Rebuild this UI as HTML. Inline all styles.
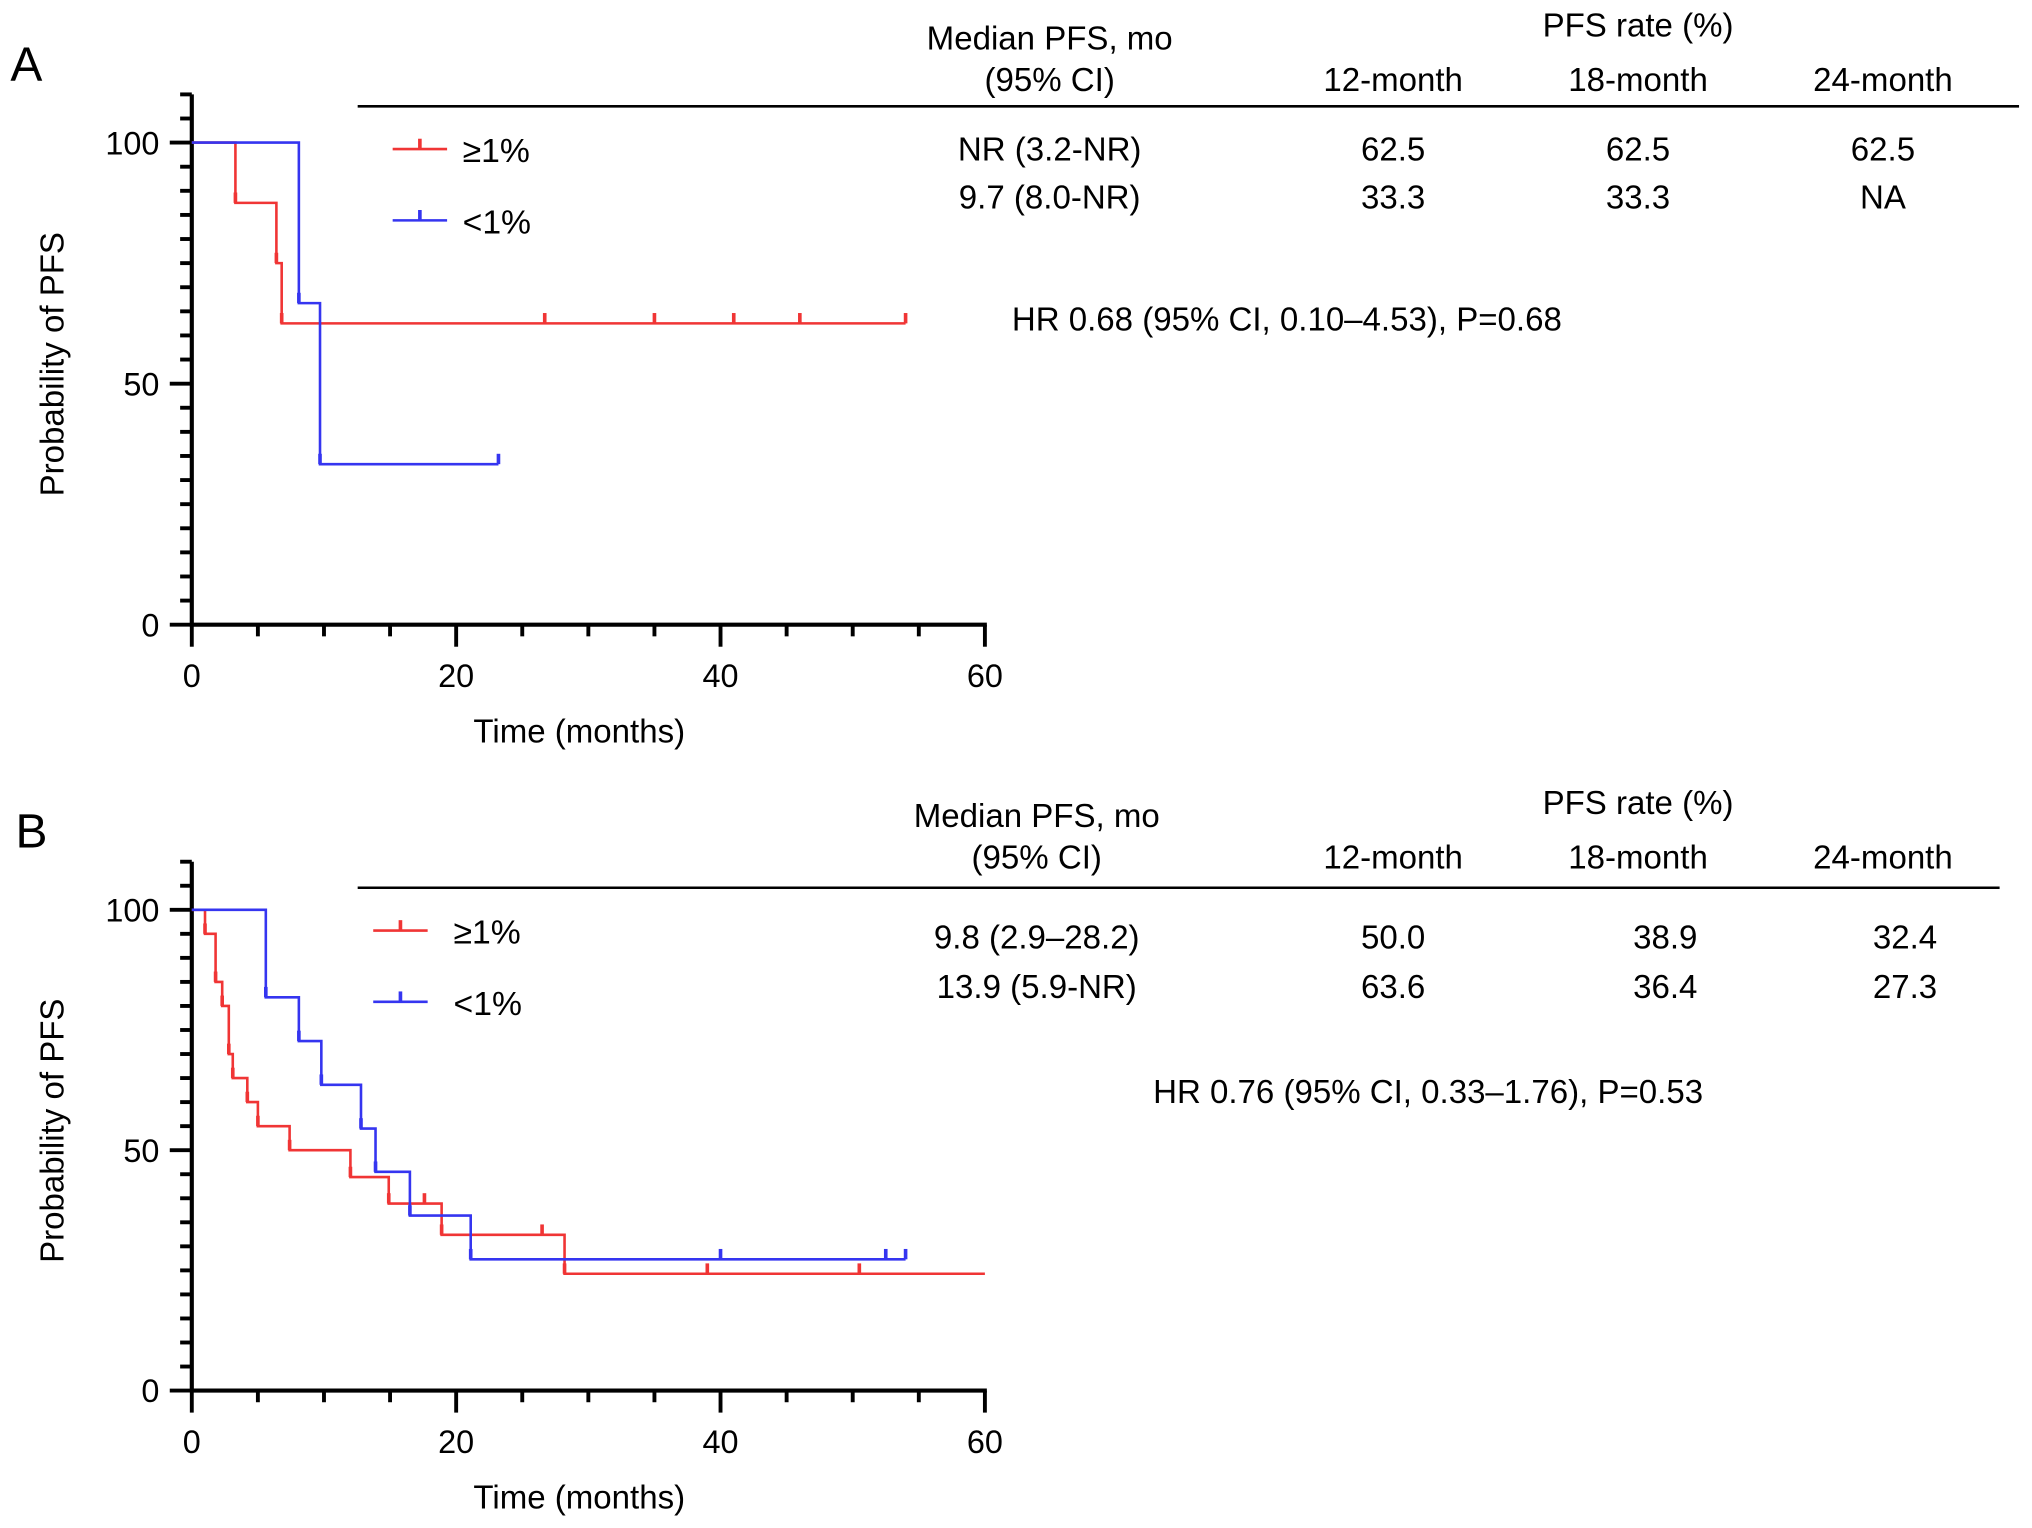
<!DOCTYPE html>
<html><head><meta charset="utf-8"><style>
html,body{margin:0;padding:0;background:#fff;}
svg{display:block;font-family:"Liberation Sans",Arial,sans-serif;}
</style></head><body>
<svg id="fig" width="2032" height="1528" viewBox="0 0 1568 1179" xmlns="http://www.w3.org/2000/svg">
<text x="8" y="62" font-size="37">A</text>
<text x="12" y="654" font-size="37">B</text>

<g font-size="25.5" text-anchor="middle">
<text x="810" y="38">Median PFS, mo</text><text x="810" y="70">(95% CI)</text>
<text x="1264" y="28">PFS rate (%)</text>
<text x="1075" y="70">12-month</text><text x="1264" y="70">18-month</text><text x="1453" y="70">24-month</text>
<line x1="276" y1="82" x2="1558" y2="82" stroke="#000" stroke-width="2"/>
<text x="810" y="124">NR (3.2-NR)</text><text x="1075" y="124">62.5</text><text x="1264" y="124">62.5</text><text x="1453" y="124">62.5</text>
<text x="810" y="161">9.7 (8.0-NR)</text><text x="1075" y="161">33.3</text><text x="1264" y="161">33.3</text><text x="1453" y="161">NA</text>
<text x="993" y="255">HR 0.68 (95% CI, 0.10–4.53), P=0.68</text>
</g>
<g font-size="25.5" text-anchor="middle">
<text x="800" y="638">Median PFS, mo</text><text x="800" y="670">(95% CI)</text>
<text x="1264" y="628">PFS rate (%)</text>
<text x="1075" y="670">12-month</text><text x="1264" y="670">18-month</text><text x="1453" y="670">24-month</text>
<line x1="276" y1="685" x2="1543" y2="685" stroke="#000" stroke-width="2"/>
<text x="800" y="732">9.8 (2.9–28.2)</text><text x="1075" y="732">50.0</text><text x="1285" y="732">38.9</text><text x="1470" y="732">32.4</text>
<text x="800" y="770">13.9 (5.9-NR)</text><text x="1075" y="770">63.6</text><text x="1285" y="770">36.4</text><text x="1470" y="770">27.3</text>
<text x="1102" y="851">HR 0.76 (95% CI, 0.33–1.76), P=0.53</text>
</g>
<g id="plots"></g>
</svg>
<script>
// Panel A data
const aRedT = [0, 3.3, 6.4, 6.8];
const aRedS = [100, 87.5, 75, 62.5];
const aRedEnd = 54;
const aRedCens = [3.3, 6.4, 6.8, 26.7, 35, 41, 46, 54];
const aBlueT = [0, 8.1, 9.7];
const aBlueS = [100, 66.7, 33.3];
const aBlueEnd = 23.2;
const aBlueCens = [8.1, 9.7, 23.2];
// Panel B data
const bRedT = [0, 1.0, 1.8, 2.3, 2.8, 3.1, 4.2, 5.0, 7.4, 12.0, 14.9, 18.9, 28.2];
const bRedS = [100, 95, 85, 80, 70, 65, 60, 55, 50, 44.4, 38.9, 32.4, 24.3];
const bRedEnd = 60;
const bRedCens = [1.0, 1.8, 2.3, 2.8, 3.1, 4.2, 5.0, 7.4, 12.0, 14.9, 17.6, 18.9, 26.5, 28.2, 39, 50.5];
const bBlueT = [0, 5.6, 8.1, 9.8, 12.8, 13.9, 16.5, 21.1];
const bBlueS = [100, 81.8, 72.7, 63.6, 54.5, 45.5, 36.4, 27.3];
const bBlueEnd = 54;
const bBlueCens = [5.6, 8.1, 9.8, 12.8, 13.9, 16.5, 21.1, 40, 52.5, 54];
const xTicks = [0, 20, 40, 60];
const yTicks = [0, 50, 100];

const NS = "http://www.w3.org/2000/svg";
const root = document.getElementById('plots');
function mk(tag, attrs, parent) {
  const e = document.createElementNS(NS, tag);
  for (const k in attrs) e.setAttribute(k, attrs[k]);
  (parent || root).appendChild(e);
  return e;
}
function panel(id, y100, y0, series, legY) {
  const x0 = 148, x60 = 760;
  const xs = t => x0 + (x60 - x0) * t / 60;
  const ys = s => y0 + (y100 - y0) * s / 100;
  const g = mk('g', {});
  
  
  const ya = mk('line', {x1: x0, y1: ys(110), x2: x0, y2: y0 + 1.5, stroke: '#000', 'stroke-width': 3.2}, g);
  
  
  const xa = mk('line', {x1: x0 - 1.5, y1: y0, x2: x60 + 1.5, y2: y0, stroke: '#000', 'stroke-width': 3.2}, g);
  
  
  for (let v = 0; v <= 110; v += 5) {
    const major = yTicks.includes(v);
    mk('line', {x1: x0 - (major ? 17 : 9), y1: ys(v), x2: x0, y2: ys(v), stroke: '#000', 'stroke-width': 3}, g);
  }
  for (let v = 0; v <= 60; v += 5) {
    const major = xTicks.includes(v);
    mk('line', {x1: xs(v), y1: y0, x2: xs(v), y2: y0 + (major ? 17 : 9), stroke: '#000', 'stroke-width': 3}, g);
  }
  yTicks.forEach(v => {
    const t = mk('text', {x: x0 - 25, y: ys(v) + 9, 'font-size': 25, 'text-anchor': 'end'}, g);
    t.textContent = v;
    
    
  });
  xTicks.forEach(v => {
    const t = mk('text', {x: xs(v), y: y0 + 48, 'font-size': 25, 'text-anchor': 'middle'}, g);
    t.textContent = v;
    
    
  });
  const yl = mk('text', {x: 0, y: 0, 'font-size': 25.5, 'text-anchor': 'middle', transform: `translate(${x0 - 99},${(y0 + y100) / 2 - 15}) rotate(-90)`}, g);
  yl.textContent = 'Probability of PFS';
  
  
  const xl = mk('text', {x: 447, y: y0 + 91, 'font-size': 25.5, 'text-anchor': 'middle'}, g);
  xl.textContent = 'Time (months)';
  
  
  series.forEach((s, si) => {
    let d = `M${xs(s.T[0])},${ys(s.S[0])}`;
    for (let i = 1; i < s.T.length; i++) {
      d += ` H${xs(s.T[i])} V${ys(s.S[i])}`;
    }
    d += ` H${xs(s.end)}`;
    const p = mk('path', {d: d, fill: 'none', stroke: s.c, 'stroke-width': 2}, g);
    
    
    s.cens.forEach(t => {
      let v = s.S[0];
      for (let i = 0; i < s.T.length; i++) if (s.T[i] <= t) v = s.S[i];
      const c = mk('line', {x1: xs(t), y1: ys(v), x2: xs(t), y2: ys(v) - 8, stroke: s.c, 'stroke-width': 2.8}, g);
      
      
    });
    const ly = legY + si * 55;
    const lx = id === 'a' ? 303 : 288;
    const lg = mk('g', {}, g);
    
    
    mk('line', {x1: lx, y1: ly, x2: lx + 42, y2: ly, stroke: s.c, 'stroke-width': 2}, lg);
    mk('line', {x1: lx + 21, y1: ly, x2: lx + 21, y2: ly - 8, stroke: s.c, 'stroke-width': 2.8}, lg);
    const lt = mk('text', {x: lx + 54 + (id === 'b' ? 8 : 0), y: ly + 10, 'font-size': 26}, lg);
    lt.textContent = s.label;
  });
}
panel('a', 110, 482, [
  {name: 'ge1', label: '≥1%', c: '#f03535', T: aRedT, S: aRedS, end: aRedEnd, cens: aRedCens},
  {name: 'lt1', label: '<1%', c: '#3535f0', T: aBlueT, S: aBlueS, end: aBlueEnd, cens: aBlueCens}
], 115);
panel('b', 702, 1073, [
  {name: 'ge1', label: '≥1%', c: '#f03535', T: bRedT, S: bRedS, end: bRedEnd, cens: bRedCens},
  {name: 'lt1', label: '<1%', c: '#3535f0', T: bBlueT, S: bBlueS, end: bBlueEnd, cens: bBlueCens}
], 718);
</script>
</body></html>
